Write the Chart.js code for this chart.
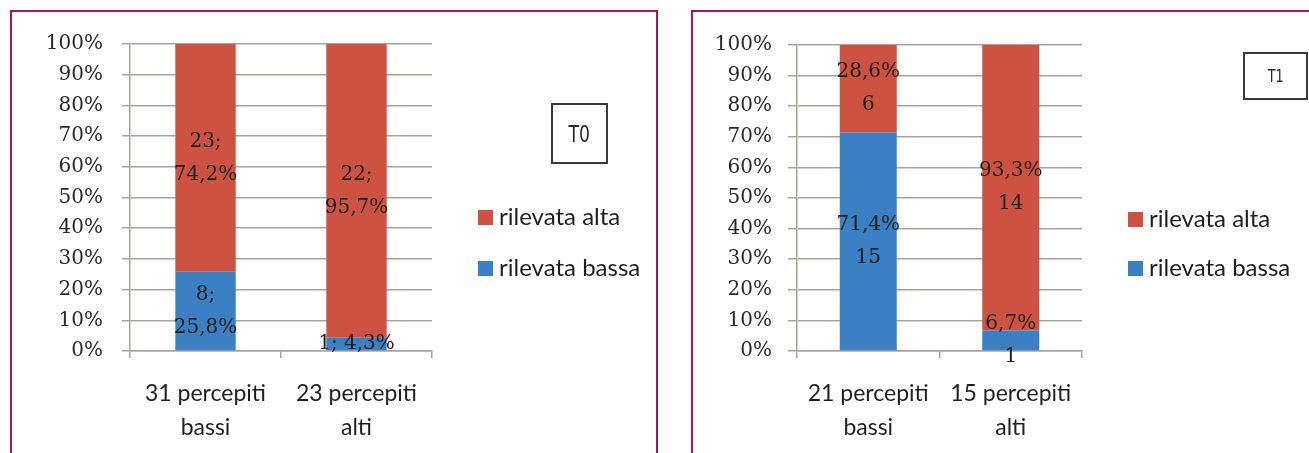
<!DOCTYPE html>
<html lang="it">
<head>
  <meta charset="UTF-8">
  <title>T0 / T1</title>
  <script src="https://cdn.jsdelivr.net/npm/chart.js"></script>
  <style>
    body { margin: 0; width: 1309px; height: 453px; overflow: hidden; background: #fff; position: relative; }
    .panel { position: absolute; top: 10px; border: 2px solid #a3195b; height: 460px; box-sizing: border-box; }
    canvas { position: absolute; top: 0; }
    .legend { position: absolute; font-family: Lato, "Open Sans", sans-serif; font-size: 24px; color: #1e1e1e; line-height: 1; }
    .legend div { position: absolute; white-space: nowrap; }
    .legend span { display: inline-block; width: 15px; height: 15px; margin-right: 6px; vertical-align: 0px; }
    .tag { position: absolute; border: 2px solid #3a3a3a; box-sizing: border-box; display: flex; align-items: center; justify-content: center;
           font-family: "DejaVu Sans", sans-serif; color: #2a2a2a; }
    .tag b { font-weight: normal; display: inline-block; transform: scaleX(0.75); }
  </style>
</head>
<body>
  <div class="panel" style="left:10px; width:648px;"></div>
  <div class="panel" style="left:691px; width:630px;"></div>

  <canvas id="chartT0" width="657" height="453" style="left:0"></canvas>
  <canvas id="chartT1" width="649" height="453" style="left:660px"></canvas>

  <div class="tag" style="left:551px; top:103px; width:57px; height:61px; font-size:23px;"><b>T0</b></div>
  <div class="tag" style="left:1243px; top:52px; width:65px; height:48px; font-size:17px;"><b>T1</b></div>

  <div class="legend" id="legendT0" style="left:478px; top:0;"></div>
  <div class="legend" id="legendT1" style="left:1128px; top:0;"></div>

  <script>
    // series names and colours
    const seriesNames = ['rilevata alta', 'rilevata bassa'];
    const colorAlta = '#cd5241';
    const colorBassa = '#3b80c3';

    // T0
    const categoriesT0 = [['31 percepiti', 'bassi'], ['23 percepiti', 'alti']];
    const bassaT0 = [25.8, 4.3];
    const altaT0 = [74.2, 95.7];
    const nBassaT0 = [8, 1];
    const nAltaT0 = [23, 22];

    // T1
    const categoriesT1 = [['21 percepiti', 'bassi'], ['15 percepiti', 'alti']];
    const bassaT1 = [71.4, 6.7];
    const altaT1 = [28.6, 93.3];
    const nBassaT1 = [15, 1];
    const nAltaT1 = [6, 14];

    // y axis ticks
    const yMin = 0, yMax = 100, yStep = 10;

    const fmt = v => v.toFixed(1).replace('.', ',');
    // T0 labels: "n;" over "p%" (single line when the segment is thin)
    const labelT0 = (n, p) => p < 5 ? [n + '; ' + fmt(p) + '%'] : [n + ';', fmt(p) + '%'];
    // T1 labels: "p%" over "n"
    const labelT1 = (n, p) => [fmt(p) + '%', String(n)];

    const gridColor = '#aaa2a0';
    const textColor = '#1f1f1f';

    const segLabels = {
      id: 'segLabels',
      afterDatasetsDraw(chart) {
        const ctx = chart.ctx;
        ctx.save();
        ctx.font = '20px "DejaVu Serif", serif';
        ctx.fillStyle = textColor;
        ctx.textAlign = 'center';
        ctx.textBaseline = 'middle';
        chart.data.datasets.forEach((ds, i) => {
          chart.getDatasetMeta(i).data.forEach((bar, j) => {
            const lines = ds.segText[j];
            const lh = 33;
            const cy = (bar.y + bar.base) / 2 - (lines.length - 1) * lh / 2;
            lines.forEach((t, k) => ctx.fillText(t, bar.x, cy + k * lh));
          });
        });
        ctx.restore();
      }
    };

    function makeChart(id, cats, bassa, alta, nBassa, nAlta, labelFn, g) {
      return new Chart(document.getElementById(id), {
        type: 'bar',
        data: {
          labels: cats,
          datasets: [
            { label: seriesNames[1], data: bassa, backgroundColor: colorBassa,
              segText: bassa.map((p, i) => labelFn(nBassa[i], p)) },
            { label: seriesNames[0], data: alta, backgroundColor: colorAlta,
              segText: alta.map((p, i) => labelFn(nAlta[i], p)) }
          ]
        },
        options: {
          responsive: false,
          animation: false,
          devicePixelRatio: 1,
          layout: { padding: { left: g.padLeft, right: g.padRight, top: g.top, bottom: 0 } },
          plugins: { legend: { display: false }, tooltip: { enabled: false } },
          datasets: { bar: { barPercentage: 0.4, categoryPercentage: 1 } },
          scales: {
            x: {
              stacked: true,
              grid: { display: true, drawOnChartArea: false, color: gridColor, tickLength: 7, lineWidth: 1.5 },
              border: { display: true, color: gridColor, width: 1.5 },
              ticks: { color: textColor, padding: 19, font: { family: 'Lato', size: 23, lineHeight: 1.48 } },
              afterFit: s => { s.height = 453 - g.bottom; }
            },
            y: {
              stacked: true,
              min: yMin, max: yMax,
              grid: { color: gridColor, tickLength: g.tickLen, lineWidth: 1.5 },
              border: { display: true, color: gridColor, width: 1.5 },
              ticks: { stepSize: yStep, color: '#2a2a2a', padding: g.tickPad,
                       font: { family: '"DejaVu Serif", serif', size: 20 },
                       callback: v => v + '%' },
              afterFit: s => { s.width = g.axisW; }
            }
          }
        },
        plugins: [segLabels]
      });
    }

    makeChart('chartT0', categoriesT0, bassaT0, altaT0, nBassaT0, nAltaT0, labelT0,
      { padLeft: 30, axisW: 100, padRight: 225, top: 44, bottom: 351, tickLen: 8, tickPad: 19 });
    makeChart('chartT1', categoriesT1, bassaT1, altaT1, nBassaT1, nAltaT1, labelT1,
      { padLeft: 37, axisW: 100, padRight: 227, top: 45, bottom: 351, tickLen: 9, tickPad: 16 });

    function buildLegend(id, yAlta, yBassa) {
      const el = document.getElementById(id);
      [[seriesNames[0], colorAlta, yAlta], [seriesNames[1], colorBassa, yBassa]].forEach(([name, col, y]) => {
        const d = document.createElement('div');
        d.style.top = (y - 13) + 'px';
        d.innerHTML = '<span style="background:' + col + '"></span>' + name;
        el.appendChild(d);
      });
    }
    buildLegend('legendT0', 217, 268);
    buildLegend('legendT1', 219, 268);
  </script>
</body>
</html>
